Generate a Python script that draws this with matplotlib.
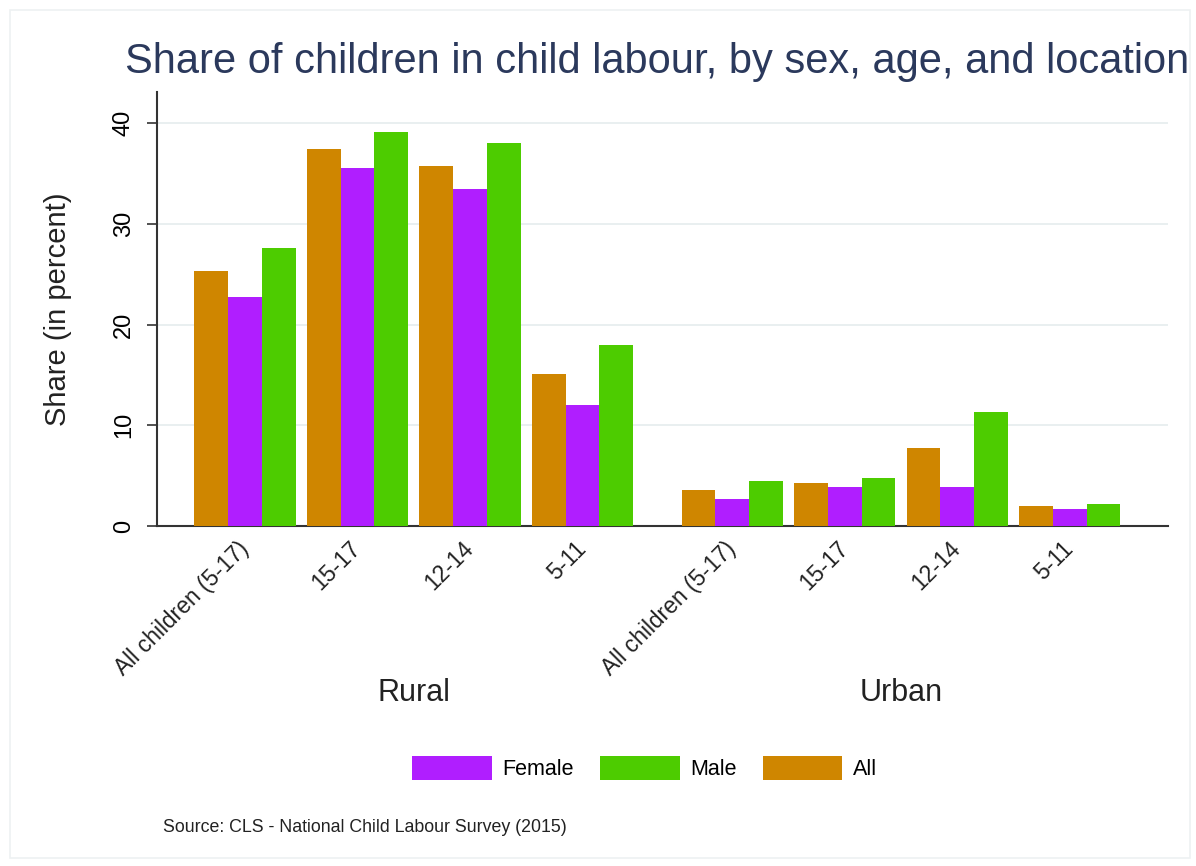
import numpy as np
import matplotlib
matplotlib.use("Agg")
import matplotlib.pyplot as plt
from matplotlib.patches import Rectangle
from matplotlib.transforms import blended_transform_factory

plt.rcParams["font.family"] = ["Liberation Sans", "DejaVu Sans"]

# values
locations = ["Rural", "Urban"]
age_groups = ["All children (5-17)", "15-17", "12-14", "5-11"]
share_all = [25.3, 37.4, 35.8, 15.1, 3.6, 4.3, 7.7, 2.0]
share_female = [22.7, 35.6, 33.5, 12.0, 2.7, 3.9, 3.9, 1.7]
share_male = [27.6, 39.1, 38.0, 18.0, 4.5, 4.8, 11.3, 2.2]

c_all = "#cf8600"
c_female = "#b01eff"
c_male = "#4dcc00"

fig = plt.figure(figsize=(11.96, 8.66), dpi=100)
ax = fig.add_axes([157 / 1196, 1 - 526 / 866, 1011 / 1196, 434 / 866])

# group centres: 4 bars per location, extra gap between locations
gap = 1.33
n = len(age_groups)
centres = np.concatenate([np.arange(n), np.arange(n) + n - 1 + gap])
w = 0.3

ax.bar(centres - w, share_all, w, color=c_all, label="All", zorder=3)
ax.bar(centres, share_female, w, color=c_female, label="Female", zorder=3)
ax.bar(centres + w, share_male, w, color=c_male, label="Male", zorder=3)

ax.set_xlim(-0.782, 8.204)
ax.set_ylim(0, 43.1)
ax.set_yticks([0, 10, 20, 30, 40])
ax.yaxis.grid(True, color="#e5ecee", linewidth=1.2, zorder=0)
ax.set_axisbelow(True)

for s in ["top", "right"]:
    ax.spines[s].set_visible(False)
for s in ["left", "bottom"]:
    ax.spines[s].set_color("#333333")
    ax.spines[s].set_linewidth(1.5)

ax.tick_params(axis="y", length=7, width=1.2, color="#333333", pad=9, labelsize=17)
for lab in ax.get_yticklabels():
    lab.set_rotation(90)
    lab.set_va("center")

ax.set_xticks(centres)
ax.set_xticklabels(age_groups * len(locations), rotation=45, ha="right",
                   va="center", rotation_mode="anchor", fontsize=16.5, color="#222222")
ax.tick_params(axis="x", length=0, pad=14)

ax.text(-0.098, 0.5, "Share (in percent)", transform=ax.transAxes, rotation=90,
        ha="center", va="center", fontsize=21, color="#222222")

trans = blended_transform_factory(ax.transData, ax.transAxes)
for i, loc in enumerate(locations):
    mid = centres[i * n:(i + 1) * n].mean()
    ax.text(mid, -0.385, loc, transform=trans, ha="center", va="center",
            fontsize=22, color="#222222")

fig.text(125 / 1196, 1 - 62 / 866,
         "Share of children in child labour, by sex, age, and location",
         ha="left", va="center", fontsize=30, color="#2b395c")

handles, labels = ax.get_legend_handles_labels()
order = [1, 2, 0]
fig.legend([handles[i] for i in order], [labels[i] for i in order],
           loc="center", bbox_to_anchor=(0.539, 1 - 768 / 866), ncol=3,
           frameon=False, fontsize=15.5, handlelength=3.7, handleheight=1.4,
           handletextpad=0.5, columnspacing=1.2)

fig.text(163 / 1196, 1 - 828 / 866,
         "Source: CLS - National Child Labour Survey (2015)",
         ha="left", va="center", fontsize=12.8, color="#222222")

# faint outer frame of the graph region
fig.patches.append(Rectangle((10 / 1196, 8 / 866), 1180 / 1196, 848 / 866,
                             transform=fig.transFigure, fill=False,
                             edgecolor="#eef1f2", linewidth=1.2))

fig.savefig("out.png", dpi=100, facecolor="white")
